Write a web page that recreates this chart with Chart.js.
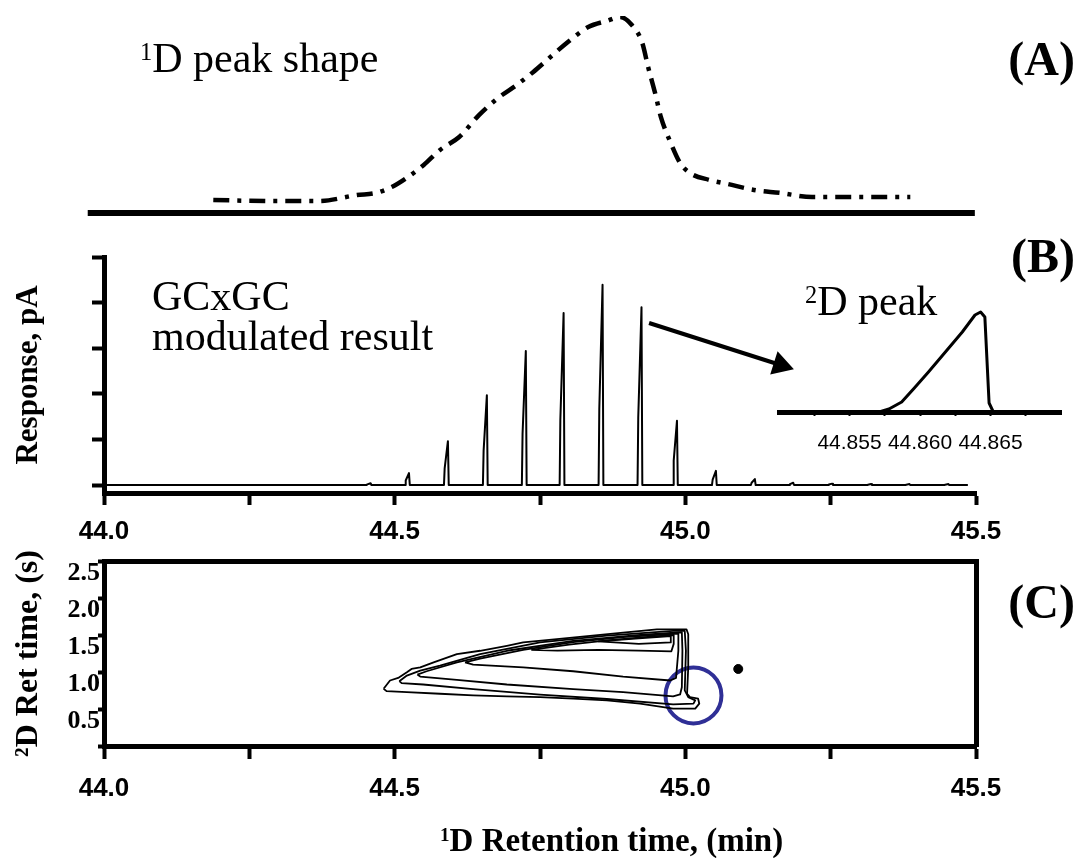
<!DOCTYPE html>
<html>
<head>
<meta charset="utf-8">
<script src="https://cdn.jsdelivr.net/npm/chart.js@4.4.1/dist/chart.umd.min.js"></script>
<style>
  body { margin: 0; background: #fff; }
  #figura { position: relative; width: 1083px; height: 858px; overflow: hidden; background: #fff; }
  #figura canvas { position: absolute; left: 0; top: 0; }
  .txt { position: absolute; font-family: "Liberation Serif", "Times New Roman", serif; color: #000; white-space: nowrap; line-height: 1; }
  .txt sup { font-size: 0.58em; vertical-align: 0.5em; line-height: 0; }
  .tag { font-weight: bold; font-size: 48px; }
</style>
</head>
<body>
<div id="figura">
  <canvas id="graficoA" width="1083" height="858"></canvas>
  <canvas id="graficoB" width="1083" height="858"></canvas>
  <canvas id="graficoInset" width="1083" height="858"></canvas>
  <canvas id="graficoC" width="1083" height="858"></canvas>

  <div class="txt" style="left:140px;top:37px;font-size:42px"><sup>1</sup>D peak shape</div>
  <div class="txt tag" style="right:8px;top:35px">(A)</div>
  <div class="txt tag" style="right:8px;top:232px">(B)</div>
  <div class="txt tag" style="right:8px;top:578px">(C)</div>
  <div class="txt" style="left:152px;top:275px;font-size:42px">GCxGC</div>
  <div class="txt" style="left:152px;top:315px;font-size:42px">modulated result</div>
  <div class="txt" style="left:805px;top:280px;font-size:42px"><sup>2</sup>D peak</div>
  <div class="txt" style="left:440px;top:824px;font-size:33px;font-weight:bold"><sup>1</sup>D Retention time, (min)</div>
</div>

<script>
// eixo comum: 1D retention time (min)
const timeTicks = [44.0, 44.25, 44.5, 44.75, 45.0, 45.25, 45.5];
const timeLabels = [44.0, 44.5, 45.0, 45.5];

// (A) 1D peak shape
const peakTime = [44.188, 44.280, 44.370, 44.435, 44.468, 44.495, 44.523, 44.550, 44.578, 44.611, 44.645, 44.678, 44.710, 44.738, 44.766, 44.798, 44.833, 44.865, 44.888, 44.908, 44.926, 44.936, 44.948, 44.958, 44.975, 44.991, 45.008, 45.041, 45.073, 45.118, 45.163, 45.218, 45.273, 45.371, 45.387];
const peakSignal = [6.6, 6.1, 6.1, 9.1, 10.2, 13.2, 18.3, 24.4, 32.0, 38.6, 49.7, 58.4, 65.0, 71.5, 78.7, 86.8, 94.4, 97.5, 99.5, 95.4, 86.3, 74.1, 60.9, 48.7, 35.5, 25.4, 20.3, 16.8, 14.7, 11.7, 10.2, 8.1, 8.1, 8.1, 8.1];
const baseTime = [43.972, 45.498];
const baseLevel = [0, 0];

// (B) modulated trace
const respTicks = [0, 1, 2, 3, 4, 5];
const traceTime = [44.0,
  44.4518, 44.4530, 44.4586, 44.4600,
  44.5178, 44.5190, 44.5246, 44.5260,
  44.5848, 44.5860, 44.5916, 44.5930,
  44.6518, 44.6530, 44.6586, 44.6600,
  44.7188, 44.7200, 44.7256, 44.7270,
  44.7838, 44.7850, 44.7906, 44.7920,
  44.8508, 44.8520, 44.8576, 44.8590,
  44.9178, 44.9190, 44.9246, 44.9260,
  44.9788, 44.9800, 44.9856, 44.9870,
  45.0458, 45.0470, 45.0526, 45.0540,
  45.1128, 45.1140, 45.1196, 45.1210,
  45.1788, 45.1800, 45.1856, 45.1870,
  45.2458, 45.2470, 45.2526, 45.2540,
  45.3128, 45.3140, 45.3196, 45.3210,
  45.3788, 45.3800, 45.3856, 45.3870,
  45.4458, 45.4470, 45.4526, 45.4540,
  45.486];
const traceResp = [0,
  0, 0.015, 0.04, 0,
  0, 0.099, 0.26, 0,
  0, 0.365, 0.96, 0,
  0, 0.749, 1.97, 0,
  0, 1.117, 2.94, 0,
  0, 1.433, 3.77, 0,
  0, 1.668, 4.39, 0,
  0, 1.482, 3.90, 0,
  0, 0.536, 1.41, 0,
  0, 0.118, 0.31, 0,
  0, 0.049, 0.13, 0,
  0, 0.019, 0.05, 0,
  0, 0.011, 0.03, 0,
  0, 0.008, 0.02, 0,
  0, 0.008, 0.02, 0,
  0, 0.008, 0.02, 0,
  0];
const arrowTime = [44.9376, 45.1638];
const arrowResp = [3.553, 2.632];

// inset: 2D peak
const insetTicks = [44.8525, 44.855, 44.8575, 44.86, 44.8625, 44.865, 44.8675];
const insetLabels = [44.855, 44.860, 44.865];
const insetTime = [44.8500, 44.8571, 44.8578, 44.8587, 44.8596, 44.8606, 44.8618, 44.8630, 44.8639, 44.8643, 44.8646, 44.8649, 44.8652, 44.8700];
const insetSignal = [0, 0, 3, 10, 24, 40, 60, 80, 97, 100, 95, 9, 0, 0];

// (C) contour plot
const retTicks = [0, 0.5, 1.0, 1.5, 2.0, 2.5];
const retLabels = [0.5, 1.0, 1.5, 2.0, 2.5];
const c1Time = [44.481, 44.492, 44.506, 44.521, 44.529, 44.544, 44.567, 44.607, 44.647, 44.693, 44.721, 44.779, 44.836, 44.893, 44.951, 45.002, 45.005, 45.005, 45.003, 45.008, 45.022, 45.024, 45.017, 44.979, 44.922, 44.865, 44.807, 44.750, 44.693, 44.635, 44.578, 44.521, 44.486, 44.481];
const c1Ret = [0.773, 0.885, 0.920, 0.996, 1.041, 1.063, 1.130, 1.242, 1.287, 1.354, 1.399, 1.443, 1.488, 1.533, 1.577, 1.577, 1.510, 1.063, 0.706, 0.661, 0.639, 0.572, 0.505, 0.505, 0.572, 0.617, 0.639, 0.661, 0.670, 0.684, 0.706, 0.728, 0.742, 0.773];
const c2Time = [44.508, 44.521, 44.544, 44.578, 44.647, 44.750, 44.865, 44.979, 44.999, 45.001, 44.999, 45.005, 45.017, 45.014, 44.979, 44.865, 44.750, 44.635, 44.549, 44.512, 44.508];
const c2Ret = [0.876, 0.952, 1.019, 1.086, 1.242, 1.399, 1.492, 1.555, 1.555, 1.287, 0.751, 0.661, 0.617, 0.572, 0.563, 0.635, 0.693, 0.769, 0.831, 0.849, 0.876];
const c3Time = [44.539, 44.555, 44.607, 44.693, 44.807, 44.922, 44.994, 44.995, 44.994, 44.991, 44.979, 44.893, 44.807, 44.693, 44.607, 44.544, 44.539];
const c3Ret = [0.965, 1.010, 1.130, 1.287, 1.421, 1.501, 1.537, 1.287, 0.795, 0.697, 0.670, 0.728, 0.769, 0.831, 0.894, 0.938, 0.965];
const c4Time = [44.621, 44.647, 44.721, 44.807, 44.893, 44.988, 44.988, 44.984, 44.974, 44.893, 44.807, 44.721, 44.635, 44.621];
const c4Ret = [1.130, 1.180, 1.300, 1.405, 1.470, 1.520, 1.287, 0.920, 0.885, 0.938, 1.010, 1.063, 1.099, 1.130];
const c5Time = [44.735, 44.800, 44.870, 44.930, 44.980, 44.980, 44.976, 44.920, 44.850, 44.780, 44.735];
const c5Ret = [1.300, 1.370, 1.430, 1.470, 1.500, 1.380, 1.280, 1.290, 1.300, 1.290, 1.300];
const c6Time = [44.850, 44.920, 44.975, 44.975, 44.920, 44.850];
const c6Ret = [1.415, 1.455, 1.485, 1.400, 1.380, 1.415];
const blobTime = [45.091];
const blobRet = [1.041];
const circleTime = [45.014];
const circleRet = [0.684];

const pares = (xs, ys) => xs.map((x, i) => ({ x: x, y: ys[i] }));
const temRotulo = (lista, v) => lista.some((t) => Math.abs(t - v) < 1e-7);

const fonteEixo = { family: "'Liberation Sans', Arial, sans-serif", weight: "bold", size: 26 };
const fonteSerif = { family: "'Liberation Serif', 'Times New Roman', serif", weight: "bold", size: 26 };

const baseOptions = {
  responsive: false,
  animation: false,
  devicePixelRatio: 1,
  events: [],
  plugins: { legend: { display: false }, tooltip: { enabled: false } },
};

// Gráfico A
const graficoA = new Chart(document.getElementById("graficoA"), {
  type: "scatter",
  data: {
    datasets: [
      {
        data: pares(peakTime, peakSignal),
        showLine: true,
        borderColor: "#000",
        borderWidth: 4.5,
        borderDash: [16, 8, 4, 8],
        cubicInterpolationMode: "monotone",
        pointRadius: 0,
      },
      {
        data: pares(baseTime, baseLevel),
        showLine: true,
        borderColor: "#000",
        borderWidth: 6,
        pointRadius: 0,
        clip: false,
      },
    ],
  },
  options: {
    ...baseOptions,
    layout: { padding: { left: 104, right: 107, top: 16, bottom: 645 } },
    scales: {
      x: { type: "linear", display: false, min: 44, max: 45.5 },
      y: { display: false, min: 0, max: 100 },
    },
  },
});

// Gráfico B
const graficoB = new Chart(document.getElementById("graficoB"), {
  type: "scatter",
  data: {
    datasets: [
      {
        data: pares(traceTime, traceResp),
        showLine: true,
        borderColor: "#000",
        borderWidth: 2,
        borderJoinStyle: "round",
        pointRadius: 0,
      },
      {
        data: pares(arrowTime, arrowResp),
        showLine: true,
        borderColor: "#000",
        borderWidth: 4,
        pointRadius: [0, 10],
        pointStyle: "triangle",
        pointRotation: 107.7,
        pointBackgroundColor: "#000",
        pointBorderColor: "#000",
        clip: false,
      },
    ],
  },
  options: {
    ...baseOptions,
    layout: { padding: { left: 0, right: 107, top: 257, bottom: 305 } },
    scales: {
      x: {
        type: "linear",
        min: 44,
        max: 45.5,
        afterBuildTicks: (s) => { s.ticks = timeTicks.map((v) => ({ value: v })); },
        afterFit: (s) => { s.height = 60; },
        ticks: {
          autoSkip: false,
          maxRotation: 0,
          padding: 11,
          color: "#000",
          font: fonteEixo,
          callback: (v) => (temRotulo(timeLabels, v) ? v.toFixed(1) : ""),
        },
        grid: { drawOnChartArea: false, drawTicks: true, tickLength: 12, tickWidth: 4, tickColor: "#000" },
        border: { display: true, width: 5, color: "#000" },
      },
      y: {
        min: -0.175,
        max: 5,
        afterBuildTicks: (s) => { s.ticks = respTicks.map((v) => ({ value: v })); },
        afterFit: (s) => { s.width = 104; },
        ticks: { display: false },
        grid: { drawOnChartArea: false, drawTicks: true, tickLength: 12, tickWidth: 4, tickColor: "#000" },
        border: { display: true, width: 5, color: "#000" },
        title: {
          display: true,
          text: "Response, pA",
          color: "#000",
          font: { family: "'Liberation Serif', 'Times New Roman', serif", weight: "bold", size: 31 },
          padding: { top: 10, bottom: 0 },
        },
      },
    },
  },
});

// Detalhe do pico 2D
const graficoInset = new Chart(document.getElementById("graficoInset"), {
  type: "scatter",
  data: {
    datasets: [
      {
        data: pares(insetTime, insetSignal),
        showLine: true,
        borderColor: "#000",
        borderWidth: 3,
        borderJoinStyle: "round",
        pointRadius: 0,
      },
    ],
  },
  options: {
    ...baseOptions,
    layout: { padding: { left: 779, right: 22, top: 302, bottom: 406 } },
    scales: {
      x: {
        type: "linear",
        min: 44.85,
        max: 44.87,
        afterBuildTicks: (s) => { s.ticks = insetTicks.map((v) => ({ value: v })); },
        afterFit: (s) => { s.height = 40; },
        ticks: {
          autoSkip: false,
          maxRotation: 0,
          padding: 15,
          color: "#000",
          font: { family: "'Liberation Sans', Arial, sans-serif", size: 21 },
          callback: (v) => (temRotulo(insetLabels, v) ? v.toFixed(3) : ""),
        },
        grid: { drawOnChartArea: false, drawTicks: true, tickLength: 4, tickWidth: 2, tickColor: "#000" },
        border: { display: true, width: 5, color: "#000" },
      },
      y: { display: false, min: 0, max: 110 },
    },
  },
});

// Gráfico C
const contorno = (xs, ys) => ({
  data: pares(xs, ys),
  showLine: true,
  borderColor: "#000",
  borderWidth: 1.8,
  borderJoinStyle: "round",
  pointRadius: 0,
});

const graficoC = new Chart(document.getElementById("graficoC"), {
  type: "scatter",
  data: {
    datasets: [
      contorno(c1Time, c1Ret),
      contorno(c2Time, c2Ret),
      contorno(c3Time, c3Ret),
      contorno(c4Time, c4Ret),
      contorno(c5Time, c5Ret),
      contorno(c6Time, c6Ret),
      {
        data: pares(blobTime, blobRet),
        pointRadius: 4.5,
        pointBackgroundColor: "#000",
        pointBorderColor: "#000",
      },
      {
        data: pares(circleTime, circleRet),
        pointRadius: 28,
        pointBackgroundColor: "rgba(0,0,0,0)",
        pointBorderColor: "#2f2f96",
        pointBorderWidth: 4,
        clip: false,
      },
    ],
  },
  options: {
    ...baseOptions,
    layout: { padding: { left: 0, right: 107, top: 561, bottom: 52 } },
    scales: {
      x: {
        type: "linear",
        min: 44,
        max: 45.5,
        afterBuildTicks: (s) => { s.ticks = timeTicks.map((v) => ({ value: v })); },
        afterFit: (s) => { s.height = 60; },
        ticks: {
          autoSkip: false,
          maxRotation: 0,
          padding: 14,
          color: "#000",
          font: fonteEixo,
          callback: (v) => (temRotulo(timeLabels, v) ? v.toFixed(1) : ""),
        },
        grid: { drawOnChartArea: false, drawTicks: true, tickLength: 13, tickWidth: 4, tickColor: "#000" },
        border: { display: true, width: 5, color: "#000" },
      },
      x2: {
        type: "linear",
        position: "top",
        min: 44,
        max: 45.5,
        afterFit: (s) => { s.height = 0; },
        ticks: { display: false },
        grid: { drawOnChartArea: false, drawTicks: false },
        border: { display: true, width: 5, color: "#000" },
      },
      y: {
        min: 0,
        max: 2.5,
        afterBuildTicks: (s) => { s.ticks = retTicks.map((v) => ({ value: v })); },
        afterFit: (s) => { s.width = 104; },
        ticks: {
          autoSkip: false,
          padding: -2,
          labelOffset: 12,
          color: "#000",
          font: fonteSerif,
          callback: (v) => (temRotulo(retLabels, v) ? v.toFixed(1) : ""),
        },
        grid: { drawOnChartArea: false, drawTicks: true, tickLength: 6, tickWidth: 4, tickColor: "#000" },
        border: { display: true, width: 5, color: "#000" },
        title: {
          display: true,
          text: "²D Ret time, (s)",
          color: "#000",
          font: { family: "'Liberation Serif', 'Times New Roman', serif", weight: "bold", size: 32 },
          padding: { top: 10, bottom: 0 },
        },
      },
      y2: {
        position: "right",
        min: 0,
        max: 2.5,
        afterFit: (s) => { s.width = 0; },
        ticks: { display: false },
        grid: { drawOnChartArea: false, drawTicks: false },
        border: { display: true, width: 5, color: "#000" },
      },
    },
  },
});
</script>
</body>
</html>
